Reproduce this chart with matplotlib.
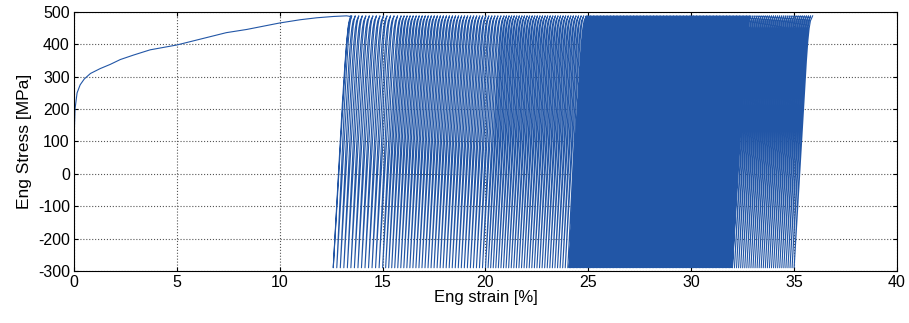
import numpy as np
import matplotlib
matplotlib.use('Agg')
import matplotlib.pyplot as plt

plt.rcParams['font.family'] = ['Liberation Sans', 'DejaVu Sans']
plt.rcParams['axes.unicode_minus'] = False

# monotonic first loading (strain %, stress MPa)
mono_strain = [0.0, 0.0, 0.05, 0.15, 0.3, 0.5, 0.8, 1.27, 1.76, 2.25, 2.9, 3.7, 5.0,
               6.2, 7.4, 8.4, 10.0, 11.0, 11.8, 12.6, 13.25, 13.45]
mono_stress = [0, 100, 200, 250, 275, 293, 310, 325, 338, 353, 367, 383, 398,
               417, 436, 446, 466, 476, 482, 486, 488, 486]

# cyclic part: stress limits and ratcheting
stress_max = 488
stress_min = -290
seg_strain = [12.6, 15.0, 20.0, 24.0, 32.0, 35.0]   # valley strain at segment borders
seg_cycles = [14, 34, 32, 115, 30]                   # cycles in each segment
load_width = 0.9                                     # valley -> peak strain span

# shape of one branch: fraction of stress range vs fraction of strain span
load_s = [0.0, 0.1, 0.25, 0.4, 0.55, 0.7, 0.82, 0.9, 0.95, 0.98, 1.0]
load_e = [0.0, 0.08, 0.2, 0.32, 0.44, 0.56, 0.66, 0.74, 0.81, 0.88, 1.0]
unload_s = [1.0, 0.985, 0.96, 0.9, 0.8, 0.65, 0.5, 0.35, 0.2, 0.1, 0.0]
unload_e = [1.0, 0.93, 0.86, 0.77, 0.66, 0.52, 0.4, 0.28, 0.16, 0.08, 0.0]

valleys = []
for i in range(len(seg_cycles)):
    v = np.linspace(seg_strain[i], seg_strain[i + 1], seg_cycles[i], endpoint=False)
    valleys.extend(v)
valleys.append(seg_strain[-1])

rng = stress_max - stress_min
xs = list(mono_strain)
ys = list(mono_stress)
peak = mono_strain[-1]
for v in valleys:
    # unloading from previous peak to this valley
    xs.extend(v + (peak - v) * np.array(unload_e))
    ys.extend(stress_min + rng * np.array(unload_s))
    # loading to next peak
    peak = v + load_width
    xs.extend(v + load_width * np.array(load_e))
    ys.extend(stress_min + rng * np.array(load_s))

fig = plt.figure(figsize=(9.09, 3.23), dpi=100)
ax = fig.add_axes([0.0814, 0.161, 0.9054, 0.802])
ax.plot(xs, ys, color='#2256a6', linewidth=0.8)

ax.set_xlim(0, 40)
ax.set_ylim(-300, 500)
ax.set_xticks(range(0, 41, 5))
ax.set_yticks(range(-300, 501, 100))
ax.grid(True, linestyle=':', color='#555555', linewidth=0.8)
ax.tick_params(direction='in', top=True, right=True, labelsize=11.5, length=3, pad=3)
for s in ax.spines.values():
    s.set_linewidth(0.8)
ax.set_xlabel('Eng strain [%]', fontsize=12, labelpad=0)
ax.set_ylabel('Eng Stress [MPa]', fontsize=12.5, labelpad=4)

plt.savefig('out.png', dpi=100)
